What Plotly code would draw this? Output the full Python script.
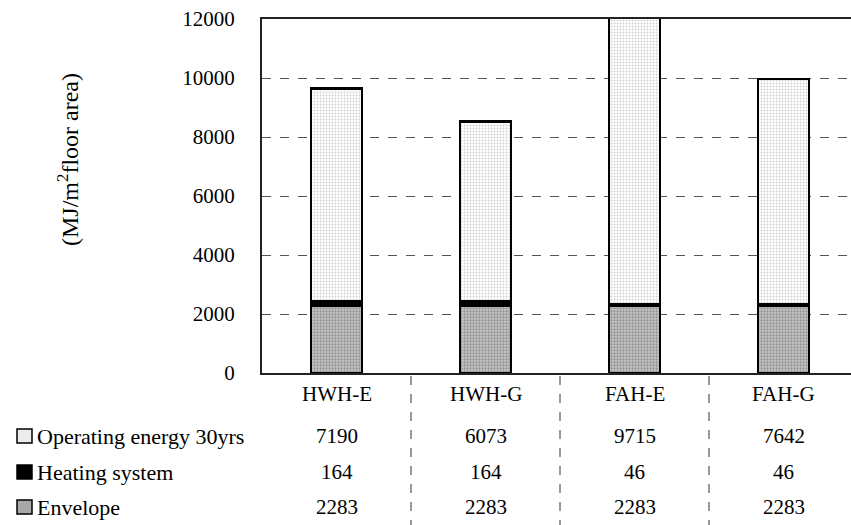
import plotly.graph_objects as go

categories = ["HWH-E", "HWH-G", "FAH-E", "FAH-G"]
envelope = [2283, 2283, 2283, 2283]
heating = [164, 164, 46, 46]
operating = [7190, 6073, 9715, 7642]
series_names = ["Operating energy 30yrs", "Heating system", "Envelope"]
y_ticks = [0, 2000, 4000, 6000, 8000, 10000, 12000]

W, H = 851, 525
L, R, T, B = 262, 0, 19, 152
PW, PH = W - L - R, H - T - B
FONT = "Liberation Serif, Times New Roman, serif"
FS = 21


def px_x(px):
    return (px - L) / PW


def px_y(py):
    return (H - B - py) / PH


fig = go.Figure()
fig.add_trace(go.Bar(
    x=categories, y=envelope, name=series_names[2], width=0.34,
    marker=dict(color="#c4c4c4", line=dict(color="black", width=2.5),
                pattern=dict(shape=".", fgcolor="#5a5a5a", bgcolor="#c8c8c8",
                             size=3, solidity=0.45)),
))
fig.add_trace(go.Bar(
    x=categories, y=heating, name=series_names[1], width=0.34,
    marker=dict(color="black", line=dict(color="black", width=2.5)),
))
fig.add_trace(go.Bar(
    x=categories, y=operating, name=series_names[0], width=0.34,
    marker=dict(color="white", line=dict(color="black", width=2.5),
                pattern=dict(shape=".", fgcolor="#a0a0a0", bgcolor="white",
                             size=3, solidity=0.3)),
))

annotations = []
annotations.append(dict(
    text="(MJ/m<sup>2</sup>floor area)", xref="paper", yref="paper",
    x=px_x(68), y=px_y(160), textangle=-90, showarrow=False,
    font=dict(family=FONT, size=24, color="black"),
    xanchor="center", yanchor="middle",
))

rows_py = [394, 436, 472, 507]
row_vals = [categories, operating, heating, envelope]
for vals, py in zip(row_vals, rows_py):
    for c, v in zip(categories, vals):
        annotations.append(dict(
            text=str(v), xref="x", yref="paper", x=c, y=px_y(py),
            showarrow=False, xanchor="center", yanchor="middle",
            font=dict(family=FONT, size=FS, color="black"),
        ))
for name, py in zip(series_names, rows_py[1:]):
    annotations.append(dict(
        text=name, xref="paper", yref="paper", x=px_x(35), y=px_y(py),
        showarrow=False, xanchor="left", yanchor="middle",
        font=dict(family=FONT, size=22, color="black"),
    ))

shapes = []
for i in range(len(categories) - 1):
    shapes.append(dict(
        type="line", xref="x", yref="paper", x0=i + 0.5, x1=i + 0.5,
        y0=px_y(376), y1=px_y(525),
        line=dict(color="#333", width=1, dash="dash"),
    ))
sw_fill = ["#ececec", "black", "#a8a8a8"]
for fill, py in zip(sw_fill, rows_py[1:]):
    shapes.append(dict(
        type="rect", xref="paper", yref="paper",
        x0=px_x(17), x1=px_x(32), y0=px_y(py + 7), y1=px_y(py - 7),
        fillcolor=fill, line=dict(color="black", width=1.5),
    ))

fig.update_layout(
    barmode="stack",
    width=W, height=H,
    margin=dict(l=L, r=R, t=T, b=B, pad=0),
    paper_bgcolor="white", plot_bgcolor="white",
    showlegend=False,
    font=dict(family=FONT, size=FS, color="black"),
    annotations=annotations,
    shapes=shapes,
    xaxis=dict(
        type="category", range=[-0.5, 3.5 - 7 / 149],
        showticklabels=False, ticks="",
        showline=True, linecolor="#222", linewidth=2, mirror=True,
        showgrid=False, zeroline=False,
    ),
    yaxis=dict(
        range=[0, 12000], tickvals=y_ticks,
        ticktext=[str(v) for v in y_ticks],
        ticks="", ticklabelstandoff=21,
        tickfont=dict(family=FONT, size=FS, color="black"),
        showline=True, linecolor="#222", linewidth=2,
        showgrid=True, gridcolor="#555", gridwidth=1, griddash="dash",
        zeroline=False,
    ),
)

fig.write_html("out.html")
